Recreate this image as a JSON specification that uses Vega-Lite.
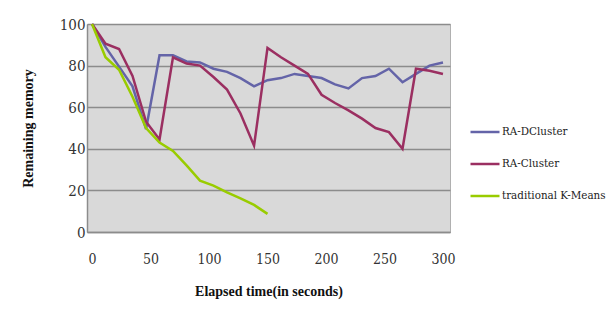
{
  "$schema": "https://vega.github.io/schema/vega-lite/v6.json",
  "autosize": "none",
  "width": 363,
  "height": 208,
  "padding": {"left": 87, "top": 24, "right": 161, "bottom": 99},
  "background": "white",
  "config": {
    "view": {"fill": "#d9d9d9", "stroke": "#b0b0b0", "strokeWidth": 1},
    "font": "DejaVu Serif Condensed, DejaVu Serif, serif",
    "axis": {"labelFont": "DejaVu Serif Condensed, DejaVu Serif, serif", "titleFont": "Liberation Serif"},
    "legend": {"labelFont": "DejaVu Serif Condensed, DejaVu Serif, serif"}
  },
  "data": {
    "values": [
      {"t": 0, "series": "RA-DCluster", "value": 100},
      {"t": 11.5, "series": "RA-DCluster", "value": 89},
      {"t": 23.1, "series": "RA-DCluster", "value": 79.5},
      {"t": 34.6, "series": "RA-DCluster", "value": 70},
      {"t": 46.2, "series": "RA-DCluster", "value": 49.5},
      {"t": 57.7, "series": "RA-DCluster", "value": 85},
      {"t": 69.2, "series": "RA-DCluster", "value": 85},
      {"t": 80.8, "series": "RA-DCluster", "value": 82},
      {"t": 92.3, "series": "RA-DCluster", "value": 81.5},
      {"t": 103.8, "series": "RA-DCluster", "value": 78.5},
      {"t": 115.4, "series": "RA-DCluster", "value": 77},
      {"t": 126.9, "series": "RA-DCluster", "value": 74},
      {"t": 138.5, "series": "RA-DCluster", "value": 70},
      {"t": 150, "series": "RA-DCluster", "value": 73},
      {"t": 161.5, "series": "RA-DCluster", "value": 74},
      {"t": 173.1, "series": "RA-DCluster", "value": 76},
      {"t": 184.6, "series": "RA-DCluster", "value": 75},
      {"t": 196.2, "series": "RA-DCluster", "value": 74},
      {"t": 207.7, "series": "RA-DCluster", "value": 71},
      {"t": 219.2, "series": "RA-DCluster", "value": 69},
      {"t": 230.8, "series": "RA-DCluster", "value": 74},
      {"t": 242.3, "series": "RA-DCluster", "value": 75},
      {"t": 253.8, "series": "RA-DCluster", "value": 78.5},
      {"t": 265.4, "series": "RA-DCluster", "value": 72},
      {"t": 276.9, "series": "RA-DCluster", "value": 76},
      {"t": 288.5, "series": "RA-DCluster", "value": 80},
      {"t": 300, "series": "RA-DCluster", "value": 81.5},

      {"t": 0, "series": "RA-Cluster", "value": 100},
      {"t": 11.5, "series": "RA-Cluster", "value": 90.5},
      {"t": 23.1, "series": "RA-Cluster", "value": 88},
      {"t": 34.6, "series": "RA-Cluster", "value": 75},
      {"t": 46.2, "series": "RA-Cluster", "value": 53},
      {"t": 57.7, "series": "RA-Cluster", "value": 44.5},
      {"t": 69.2, "series": "RA-Cluster", "value": 84},
      {"t": 80.8, "series": "RA-Cluster", "value": 81},
      {"t": 92.3, "series": "RA-Cluster", "value": 80},
      {"t": 103.8, "series": "RA-Cluster", "value": 74.5},
      {"t": 115.4, "series": "RA-Cluster", "value": 68.5},
      {"t": 126.9, "series": "RA-Cluster", "value": 57},
      {"t": 138.5, "series": "RA-Cluster", "value": 41.5},
      {"t": 150, "series": "RA-Cluster", "value": 88.5},
      {"t": 161.5, "series": "RA-Cluster", "value": 84},
      {"t": 173.1, "series": "RA-Cluster", "value": 80},
      {"t": 184.6, "series": "RA-Cluster", "value": 76},
      {"t": 196.2, "series": "RA-Cluster", "value": 66},
      {"t": 207.7, "series": "RA-Cluster", "value": 62},
      {"t": 219.2, "series": "RA-Cluster", "value": 58.5},
      {"t": 230.8, "series": "RA-Cluster", "value": 54.5},
      {"t": 242.3, "series": "RA-Cluster", "value": 50},
      {"t": 253.8, "series": "RA-Cluster", "value": 48},
      {"t": 265.4, "series": "RA-Cluster", "value": 40},
      {"t": 276.9, "series": "RA-Cluster", "value": 78.5},
      {"t": 288.5, "series": "RA-Cluster", "value": 77.5},
      {"t": 300, "series": "RA-Cluster", "value": 76},

      {"t": 0, "series": "traditional K-Means", "value": 100},
      {"t": 11.5, "series": "traditional K-Means", "value": 84},
      {"t": 23.1, "series": "traditional K-Means", "value": 78},
      {"t": 34.6, "series": "traditional K-Means", "value": 65},
      {"t": 46.2, "series": "traditional K-Means", "value": 50},
      {"t": 57.7, "series": "traditional K-Means", "value": 43},
      {"t": 69.2, "series": "traditional K-Means", "value": 39},
      {"t": 80.8, "series": "traditional K-Means", "value": 32},
      {"t": 92.3, "series": "traditional K-Means", "value": 24.7},
      {"t": 103.8, "series": "traditional K-Means", "value": 22.3},
      {"t": 115.4, "series": "traditional K-Means", "value": 19},
      {"t": 126.9, "series": "traditional K-Means", "value": 16.2},
      {"t": 138.5, "series": "traditional K-Means", "value": 13},
      {"t": 150, "series": "traditional K-Means", "value": 8.7}
    ]
  },
  "mark": {"type": "line", "strokeWidth": 2.5},
  "encoding": {
    "x": {
      "field": "t",
      "type": "quantitative",
      "scale": {"domain": [-4.3, 306], "nice": false, "zero": false},
      "axis": {
        "values": [0, 50, 100, 150, 200, 250, 300],
        "grid": false,
        "ticks": false,
        "domainColor": "#8c8c8c",
        "domainWidth": 1.5,
        "labelFontSize": 14,
        "labelColor": "#333333",
        "labelPadding": 20,
        "labelFlush": false,
        "title": "Elapsed time(in seconds)",
        "titleFontSize": 14,
        "titleFontWeight": "bold",
        "titleColor": "#111111",
        "titlePadding": 18
      }
    },
    "y": {
      "field": "value",
      "type": "quantitative",
      "scale": {"domain": [0, 100], "nice": false},
      "axis": {
        "values": [0, 20, 40, 60, 80, 100],
        "grid": true,
        "gridColor": "#8c8c8c",
        "gridWidth": 1.5,
        "ticks": false,
        "domainColor": "#8c8c8c",
        "domainWidth": 1.5,
        "labelFontSize": 15,
        "labelColor": "#333333",
        "labelPadding": 2,
        "title": "Remaining memory",
        "titleFontSize": 14,
        "titleFontWeight": "bold",
        "titleColor": "#111111",
        "titlePadding": 24
      }
    },
    "color": {
      "field": "series",
      "type": "nominal",
      "sort": ["RA-DCluster", "RA-Cluster", "traditional K-Means"],
      "scale": {
        "domain": ["RA-DCluster", "RA-Cluster", "traditional K-Means"],
        "range": ["#6464a8", "#9b2f61", "#99cc00"]
      },
      "legend": {
        "title": null,
        "orient": "none",
        "legendX": 382,
        "legendY": 92,
        "symbolType": "stroke",
        "symbolSize": 841,
        "symbolStrokeWidth": 2.5,
        "labelFontSize": 11.5,
        "labelColor": "#222222",
        "labelOffset": 1,
        "rowPadding": 10
      }
    }
  }
}
